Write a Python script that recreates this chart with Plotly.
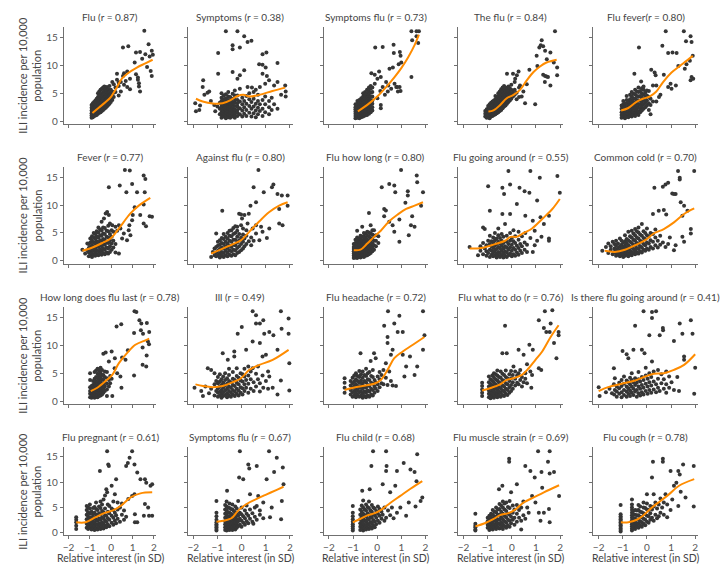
import plotly.graph_objects as go

# ---------------- data (x, [y values]) columns ----------------
flu_pts = [
 (-0.92,[0.6,1.0,1.4,1.9,2.4,2.9]),(-0.86,[0.7,1.2,1.6,2.1,2.6,3.2]),(-0.80,[0.9,1.3,1.8,2.3,2.8,3.4]),
 (-0.74,[1.0,1.5,2.0,2.5,3.1,3.7]),(-0.68,[1.1,1.6,2.2,2.7,3.3,4.0]),(-0.62,[1.3,1.8,2.4,3.0,3.6,4.3,5.0]),
 (-0.56,[1.5,2.0,2.6,3.2,3.8,4.5,5.3]),(-0.50,[1.6,2.2,2.8,3.4,4.0,4.7,5.6]),(-0.44,[1.8,2.4,3.0,3.6,4.2,5.0,5.8]),
 (-0.38,[2.0,2.6,3.2,3.9,4.5,5.2,6.0]),(-0.32,[2.2,2.9,3.5,4.1,4.8,5.5,6.2]),(-0.26,[2.4,3.1,3.7,4.4,5.0,5.8]),
 (-0.20,[2.6,3.3,4.0,4.6,5.3,6.1]),(-0.14,[2.9,3.6,4.3,5.0,5.7]),(-0.08,[3.1,3.8,4.5,5.2,6.3]),
 (-0.02,[3.4,4.1,4.9,5.6]),(0.05,[3.8,4.6,5.3,7.0]),(0.12,[4.3,5.1,6.6]),(0.2,[5.2,6.0]),(0.27,[7.4,8.5]),
 (0.35,[4.6,6.3,6.9]),(0.45,[5.3,7.0]),(0.55,[8.1,13.2]),(0.6,[6.5,8.6]),(0.68,[7.2]),(0.75,[6.1,8.9]),
 (0.8,[13.4]),(0.88,[7.6,5.7]),(1.1,[10.5]),(1.16,[12.3,8.4]),(1.25,[7.4,7.8]),(1.3,[6.8,6.2]),
 (1.35,[5.3,12.4]),(1.45,[11.2]),(1.55,[16.2]),(1.6,[12.0]),(1.68,[9.7]),(1.75,[13.8]),(1.8,[11.6]),
 (1.85,[9.0]),(1.9,[12.6,8.1]),(1.95,[11.9]),
]
flu_cx = [-0.88,-0.57,-0.26,0.0,0.2,0.5,0.75,1.2,1.6,1.94]
flu_cy = [1.45,2.45,3.4,4.4,5.6,7.6,8.5,9.6,10.35,11.0]

sym_pts = [
 (-1.92,[3.2]),(-1.89,[1.75]),(-1.75,[2.0]),(-1.72,[2.8]),(-1.61,[6.1]),(-1.59,[7.3]),(-1.54,[4.7]),
 (-1.41,[5.1]),(-1.34,[5.3]),(-1.27,[3.6]),(-1.13,[2.9]),(-1.09,[1.75]),(-1.0,[2.6]),(-0.97,[12.2,8.5]),
 (-0.9,[1.2,2.2,3.3]),(-0.83,[0.6,1.1,1.6,2.1,2.6,3.1,3.6,4.2,5.0]),(-0.74,[0.8,1.3,1.8,2.3,2.8,3.3,3.9,4.6]),
 (-0.65,[0.5,1.0,1.5,2.0,2.5,3.0,3.5,4.1,4.8,16.1]),(-0.55,[0.7,1.2,1.7,2.2,2.7,3.2,3.8,4.4,5.2]),
 (-0.47,[0.6,1.1,1.6,2.1,2.6,3.1,3.7,4.3]),(-0.37,[0.8,1.3,1.8,2.3,2.9,3.4,4.0,4.9,8.8,12.9,13.6]),
 (-0.28,[0.6,1.1,1.6,2.1,2.7,3.3,3.9,4.6,5.5]),(-0.17,[0.9,1.5,2.0,2.6,3.2,3.8,4.6,7.6,16.1]),
 (-0.07,[1.2,2.3,3.5,5.8,8.2,13.2]),(0.03,[0.8,1.9,3.0,4.2]),(0.11,[1.3,2.5,3.6,9.1,15.2]),
 (0.2,[0.9,2.0,3.1,4.5]),(0.25,[6.1,14.2]),(0.32,[1.5,2.7,3.9,5.0]),(0.41,[14.4,0.8,2.2,3.4]),(0.43,[6.0]),
 (0.5,[1.4,2.6,4.0,5.2]),(0.59,[5.6,0.7,1.9,3.1]),(0.68,[1.2,2.4,3.6,4.7]),(0.73,[10.2]),(0.76,[6.1,1.8,3.0]),
 (0.87,[12.0,10.1,8.5,0.9,2.2,3.8]),(0.98,[6.7,1.6,3.0,4.4]),(1.0,[9.6]),(1.03,[12.3]),(1.05,[8.1]),
 (1.14,[7.3,1.2,2.5,3.6]),(1.25,[2.0,4.2]),(1.35,[6.4,3.0]),(1.49,[7.0,10.4,2.2]),(1.64,[4.7]),(1.81,[6.4]),
 (1.83,[5.3,4.4]),
]
sym_cx = [-1.89,-1.61,-1.2,-0.79,-0.44,-0.17,0.08,0.32,0.73,1.28,1.81]
sym_cy = [4.0,3.5,3.15,3.2,3.8,4.5,4.7,4.4,4.7,5.4,6.0]

sf_pts = [
 (-0.9,[0.5,0.9,1.3,1.7,2.1,2.5,3.0]),(-0.82,[0.6,1.0,1.4,1.8,2.2,2.6,3.1,3.6]),
 (-0.74,[0.5,0.9,1.3,1.7,2.2,2.7,3.2,3.8]),(-0.66,[0.7,1.1,1.5,2.0,2.5,3.0,3.5,4.1]),
 (-0.58,[0.8,1.2,1.7,2.2,2.7,3.2,3.8,4.4,5.0]),(-0.5,[1.0,1.4,1.9,2.4,2.9,3.4,4.0,4.6,5.2]),
 (-0.42,[1.1,1.6,2.1,2.6,3.1,3.7,4.3,4.9,5.6]),(-0.34,[1.3,1.8,2.3,2.8,3.4,4.0,4.6,5.3,6.0]),
 (-0.27,[1.6,2.1,2.6,3.2,3.8,4.4,5.1,5.8,6.3]),(-0.2,[1.9,2.5,3.1,3.7,4.4,5.2,6.0]),
 (-0.1,[8.3,6.7]),(-0.08,[13.2]),(-0.24,[8.6]),(0.01,[7.6,4.1]),(0.08,[8.9]),(0.13,[5.4]),
 (0.15,[7.9,2.9,2.3]),(0.23,[13.3,6.1]),(0.32,[4.7]),(0.37,[7.0]),(0.44,[5.3]),(0.46,[6.4]),(0.51,[9.4]),
 (0.58,[5.8]),(0.65,[9.6]),(0.68,[13.7]),(0.69,[12.2]),(0.72,[6.7]),(0.79,[6.1]),(0.83,[6.1]),(0.86,[5.3]),
 (0.89,[10.2]),(0.94,[12.4]),(0.97,[11.7,5.4]),(0.93,[6.1]),(1.0,[10.5]),(1.42,[7.9,16.1]),(1.45,[14.5]),
 (1.63,[16.1,15.2]),(1.7,[14.0]),(1.73,[16.1]),
]
sf_cx = [-0.8,-0.41,0.0,0.37,0.72,1.0,1.28,1.56,1.73]
sf_cy = [1.75,2.9,4.4,6.1,7.9,9.5,11.4,13.7,15.5]

tf_pts = [
 (-1.1,[0.8,1.3,1.8]),(-1.04,[0.6,1.1,1.6,2.1]),(-0.98,[0.7,1.2,1.7,2.2,2.7]),(-0.92,[0.5,1.0,1.5,2.0,2.5,3.0]),
 (-0.86,[0.8,1.3,1.8,2.3,2.8,3.3]),(-0.8,[0.9,1.4,1.9,2.4,2.9,3.5]),(-0.74,[1.1,1.6,2.1,2.6,3.1,3.7]),
 (-0.68,[1.2,1.7,2.2,2.7,3.3,3.9,4.5]),(-0.62,[1.4,1.9,2.4,3.0,3.6,4.2]),(-0.56,[1.6,2.1,2.6,3.2,3.8,4.4,5.0]),
 (-0.5,[1.8,2.3,2.9,3.5,4.1,4.7,5.3]),(-0.44,[2.0,2.6,3.2,3.8,4.4,5.0,5.7]),(-0.38,[2.3,2.9,3.5,4.1,4.7,5.3,6.0]),
 (-0.32,[2.6,3.2,3.8,4.4,5.0,5.6,6.3]),(-0.26,[2.8,3.4,4.0,4.6,5.3,6.0]),(-0.2,[3.1,3.7,4.3,5.0,5.7,8.5]),
 (-0.14,[3.4,4.0,4.7,5.4,6.2]),(-0.08,[3.7,4.4,5.1,5.9]),(-0.02,[4.0,4.8,5.6,6.5]),(0.05,[4.4,5.2,8.5]),
 (0.12,[4.7,5.6,7.0]),(0.14,[7.6]),(0.21,[8.2]),(0.28,[8.9]),(0.2,[3.9,5.1]),(0.3,[4.3,6.0]),(0.34,[6.4]),
 (0.41,[4.4]),(0.48,[5.3]),(0.55,[3.2]),(0.62,[6.6]),(0.73,[9.2]),(0.97,[3.0]),(1.03,[11.7]),(1.06,[9.9]),
 (1.14,[13.2]),(1.2,[13.6]),(1.24,[14.5]),(1.3,[13.4,8.3]),(1.37,[7.0]),(1.38,[12.6,8.1]),(1.44,[8.0]),
 (1.45,[11.1]),(1.5,[7.9]),(1.6,[12.3,6.4]),(1.74,[10.5]),(1.79,[16.1]),(1.88,[9.6,8.2]),
]
tf_cx = [-0.97,-0.76,-0.48,-0.21,0.07,0.34,0.62,0.9,1.17,1.44,1.86]
tf_cy = [1.7,1.9,2.9,4.1,4.7,5.6,7.3,8.8,9.8,10.5,11.0]

ff_pts = [
 (-1.05,[0.6,1.1,1.6,2.2,2.8]),(-0.98,[0.8,1.3,1.8,2.4,3.0,3.6]),(-0.91,[0.5,1.0,1.5,2.0,2.6,3.2]),
 (-0.84,[0.9,1.4,1.9,2.5,3.1,3.8,4.5]),(-0.77,[0.7,1.2,1.7,2.3,2.9,3.5]),(-0.7,[1.0,1.5,2.0,2.6,3.2,3.9,4.7]),
 (-0.63,[0.8,1.3,1.9,2.5,3.1,3.7,4.4,5.2]),(-0.56,[1.1,1.6,2.2,2.8,3.4,4.1,4.9]),(-0.52,[8.5]),
 (-0.49,[0.9,1.5,2.1,2.7,3.3,4.0,4.8,5.6]),(-0.42,[1.3,1.9,2.5,3.1,3.8,4.5,5.3]),
 (-0.35,[1.1,1.7,2.4,3.0,3.7,4.4,5.2,6.0]),(-0.33,[13.2]),(-0.28,[1.6,2.3,3.0,3.7,4.5,5.4]),(-0.24,[7.1]),
 (-0.21,[1.9,2.6,3.4,4.2,5.0,5.9]),(-0.14,[2.2,3.0,3.8,4.7,5.6,6.2]),(-0.07,[2.5,3.3,4.2,5.1]),
 (0.0,[2.8,3.7,4.6,5.5]),(0.08,[2.0,3.2,4.3,5.4]),(0.15,[1.2,2.9,4.0]),(0.18,[9.2]),(0.25,[6.4,3.5]),
 (0.32,[8.7]),(0.36,[8.2]),(0.39,[6.4,3.5]),(0.5,[4.3]),(0.56,[4.7]),(0.64,[13.5]),(0.7,[8.3]),(0.78,[16.1]),
 (0.88,[12.2,6.1]),(0.98,[6.7]),(1.02,[5.8]),(1.06,[12.3]),(1.2,[6.4]),(1.23,[12.2]),(1.3,[9.9]),(1.53,[16.1]),
 (1.57,[9.4]),(1.62,[14.3]),(1.64,[10.2]),(1.78,[10.8]),(1.81,[15.2,7.3]),(1.85,[14.2,7.9]),(1.9,[11.7]),
 (1.92,[7.6]),
]
ff_cx = [-1.07,-0.79,-0.45,-0.17,0.11,0.39,0.67,1.02,1.37,1.64,1.9]
ff_cy = [1.9,2.3,3.4,4.0,4.4,5.3,7.0,8.7,9.9,10.8,11.7]

fev_pts = [
 (-1.35,[2.0]),(-1.22,[1.3]),(-1.12,[3.1,1.9]),(-1.05,[0.8,1.5,2.3,3.0]),(-0.98,[1.0,1.7,2.5,3.3,4.0]),
 (-0.9,[0.7,1.3,2.0,2.8,3.6,4.4]),(-0.82,[1.1,1.8,2.5,3.3,4.2,5.0]),(-0.75,[0.9,1.6,2.3,3.1,3.9,4.8]),
 (-0.68,[1.2,1.9,2.7,3.5,4.4,5.3]),(-0.6,[1.0,1.7,2.5,3.3,4.2,5.1,6.0]),(-0.52,[1.3,2.0,2.8,3.7,4.6,5.6]),
 (-0.45,[1.1,1.8,2.6,3.5,4.5,5.5,7.0]),(-0.38,[1.4,2.2,3.0,3.9,4.9,6.0]),(-0.34,[7.6]),
 (-0.3,[1.2,2.0,2.9,3.8,4.8,5.9]),(-0.26,[8.5]),(-0.22,[1.5,2.4,3.3,4.3,5.4]),(-0.19,[8.75]),
 (-0.14,[1.3,2.2,3.2,4.2,5.3,6.3]),(-0.11,[8.2,13.2]),(-0.06,[1.6,2.6,3.7,4.8,6.7]),(0.02,[2.0,3.1,4.3,5.5]),
 (0.05,[6.4]),(0.1,[2.4,3.6,5.2]),(0.2,[1.5,3.0,6.1]),(0.28,[5.4]),(0.36,[6.4,1.3]),(0.4,[13.5]),(0.43,[5.8]),
 (0.51,[4.0]),(0.59,[4.9]),(0.64,[16.3]),(0.71,[12.3]),(0.74,[3.7]),(0.82,[5.5]),(0.85,[6.4]),(0.87,[16.2]),
 (0.9,[4.6]),(0.98,[13.8,7.3]),(1.01,[8.2]),(1.1,[9.6]),(1.21,[12.3]),(1.36,[8.2]),(1.52,[15.3,10.1,6.7]),
 (1.57,[12.3]),(1.6,[14.7]),(1.63,[6.2]),(1.8,[8.0]),(1.91,[7.9]),
]
fev_cx = [-1.35,-0.88,-0.42,-0.03,0.28,0.59,0.9,1.29,1.83]
fev_cy = [1.8,2.4,3.2,4.0,5.4,7.0,8.5,9.9,11.3]

af_pts = [
 (-1.26,[0.7]),(-1.19,[1.6]),(-1.12,[1.0,2.2]),(-1.05,[0.8,1.5,2.5,4.9]),(-0.98,[1.0,1.8,2.7,3.4]),
 (-0.9,[0.6,1.3,2.1,2.9,3.7]),(-0.82,[0.9,1.6,2.4,3.2,4.1]),(-0.8,[9.0]),(-0.74,[0.7,1.4,2.2,3.0,3.9,4.8]),
 (-0.66,[1.0,1.8,2.6,3.4,4.3]),(-0.58,[0.8,1.5,2.3,3.1,4.0,5.0]),(-0.5,[1.1,1.9,2.7,3.6,4.5,5.4]),
 (-0.42,[0.9,1.7,2.5,3.4,4.4,5.5]),(-0.34,[1.2,2.0,2.9,3.8,4.8,5.9]),(-0.26,[1.0,1.9,2.8,3.8,5.0,6.2]),
 (-0.18,[1.4,2.3,3.3,4.3,5.4,6.1]),(-0.1,[1.6,2.6,3.7,4.8,8.45]),(-0.02,[1.9,3.0,4.2,6.4,8.3]),(0.02,[7.6]),
 (0.06,[2.2,3.4,4.7,5.8]),(0.12,[8.2,2.6,4.0]),(0.2,[3.0,4.5,5.5]),(0.25,[6.7]),(0.3,[8.45,3.5]),(0.37,[9.9]),
 (0.4,[4.2,2.8]),(0.46,[5.8]),(0.5,[13.2,3.6]),(0.6,[10.5,6.4,4.9]),(0.7,[16.3]),(0.74,[3.7]),(0.81,[6.1]),
 (0.87,[5.2]),(0.92,[12.3]),(1.05,[4.1]),(1.15,[5.8]),(1.26,[13.2]),(1.32,[13.7]),(1.49,[12.0]),
 (1.56,[9.3,6.7]),(1.67,[11.7]),(1.7,[6.4]),(1.91,[11.7,9.9]),
]
af_cx = [-1.26,-0.78,-0.3,-0.02,0.32,0.74,1.15,1.56,1.91]
af_cy = [1.3,2.2,3.1,3.7,5.2,7.1,8.75,9.9,10.5]

fhl_pts = [
 (-0.97,[0.5,0.9,1.3,1.7,2.1,2.5,3.0]),(-0.9,[0.6,1.0,1.4,1.8,2.2,2.7,3.2,3.8]),
 (-0.83,[0.5,0.9,1.3,1.7,2.1,2.6,3.1,3.6,4.2,5.4]),(-0.76,[0.7,1.1,1.5,1.9,2.4,2.9,3.4,4.0]),
 (-0.69,[0.6,1.0,1.4,1.8,2.3,2.8,3.3,3.9,4.5]),(-0.62,[0.8,1.2,1.6,2.1,2.6,3.1,3.7,4.3,6.1]),
 (-0.55,[0.7,1.1,1.6,2.1,2.6,3.2,3.8,4.4,5.0]),(-0.48,[0.9,1.4,1.9,2.4,3.0,3.6,4.2,4.9]),
 (-0.41,[1.0,1.5,2.0,2.6,3.2,3.8,4.5,5.2]),(-0.34,[1.2,1.8,2.4,3.0,3.7,4.4,5.1,8.6]),
 (-0.27,[1.4,2.0,2.7,3.4,4.1,4.9,6.4]),(-0.2,[1.7,2.4,3.1,3.9,4.7,5.5]),(-0.13,[2.0,2.8,3.6,4.5,5.5]),
 (-0.05,[2.6,3.6,4.6]),(0.05,[3.2,4.4]),(0.19,[13.2]),(0.29,[9.3,8.0]),(0.36,[9.05]),(0.5,[13.8,7.0]),
 (0.64,[6.4]),(0.71,[13.5,5.2]),(0.75,[12.3]),(0.92,[3.4,7.4]),(0.99,[16.3]),(1.17,[10.4]),(1.27,[12.5,11.7]),
 (1.31,[4.6]),(1.4,[6.4]),(1.45,[8.0]),(1.55,[6.1]),(1.64,[15.3]),(1.66,[14.1]),(1.82,[9.9]),(1.9,[12.3]),
]
fhl_cx = [-0.97,-0.69,-0.41,-0.13,0.15,0.5,0.85,1.2,1.55,1.9]
fhl_cy = [1.9,2.0,3.1,4.3,5.4,7.1,8.3,9.3,9.9,10.5]

fga_pts = [
 (-1.75,[2.5]),(-1.4,[1.0]),(-1.3,[1.8,2.6]),(-1.19,[6.0,1.2,3.2]),(-1.12,[5.7,2.2]),(-1.05,[0.9,1.7,2.8]),
 (-0.98,[13.4,1.4,3.6]),(-0.91,[9.0,0.7,2.0,3.0,4.5]),(-0.84,[1.1,1.8,2.6,3.5]),(-0.77,[0.8,1.5,2.3,3.2,4.2]),
 (-0.7,[1.0,1.8,2.7,3.7,5.0]),(-0.63,[0.6,1.3,2.1,3.0,4.0]),(-0.56,[0.9,1.6,2.5,3.4,4.6,5.8]),
 (-0.49,[0.7,1.4,2.2,3.1,4.1]),(-0.42,[1.0,1.8,2.7,3.6,4.8]),(-0.39,[13.1,8.4]),(-0.35,[0.6,1.3,2.2,3.2,4.3]),
 (-0.32,[12.0]),(-0.28,[0.9,1.7,2.6,6.6]),(-0.21,[0.7,1.5,2.4,3.4,4.5]),(-0.14,[16.1,1.0,2.0,3.0]),
 (-0.07,[13.7,8.4,1.3,2.4,3.6,5.0]),(0.0,[0.8,1.8,2.9,4.1]),(0.07,[1.2,2.3,3.5,5.5]),(0.14,[0.9,2.0,3.2,4.4]),
 (0.21,[10.2,1.5,2.7]),(0.28,[1.1,2.3,3.8,5.2]),(0.32,[13.1]),(0.35,[1.8,3.0]),(0.42,[1.4,2.6,4.4]),
 (0.53,[12.5,2.0,3.3]),(0.56,[8.1,5.0]),(0.63,[1.6,2.9]),(0.73,[12.2]),(0.77,[16.1,4.1]),(0.87,[7.2,1.6]),
 (0.95,[2.8,5.4]),(1.05,[10.8,3.6]),(1.16,[14.9]),(1.19,[7.8]),(1.23,[4.3]),(1.33,[6.6]),(1.54,[8.1,4.0,3.6]),
 (1.89,[15.2]),(1.99,[12.2]),
]
fga_cx = [-1.75,-1.26,-0.7,-0.28,-0.05,0.2,0.5,0.84,1.26,1.68,1.99]
fga_cy = [2.2,2.3,3.0,3.6,4.3,4.3,5.0,5.8,7.5,9.3,11.1]

cc_pts = [
 (-1.85,[1.8]),(-1.7,[2.5]),(-1.6,[1.4,3.1]),(-1.5,[2.0,2.6]),(-1.42,[1.2,3.4]),(-1.35,[1.6,2.2,3.0]),
 (-1.28,[0.9,1.4,2.0,2.7,3.6]),(-1.2,[1.1,1.6,2.3,3.1]),(-1.12,[0.8,1.3,1.9,2.6,4.0]),
 (-1.05,[1.0,1.5,2.1,2.9,3.6]),(-0.98,[0.7,1.2,1.8,2.5,3.3]),(-0.91,[0.9,1.4,2.0,2.7,3.5,4.6]),
 (-0.84,[1.1,1.6,2.3,3.1,3.9]),(-0.77,[0.8,1.3,2.0,2.8,3.7,5.2]),(-0.7,[1.2,1.8,2.5,3.4,4.4]),
 (-0.63,[1.0,1.6,2.4,3.2,4.2,5.4]),(-0.56,[1.4,2.1,2.9,3.8,4.9]),(-0.49,[1.2,1.9,2.7,3.6,4.6,5.7]),
 (-0.42,[1.5,2.3,3.2,4.2,5.3]),(-0.35,[1.3,2.1,3.0,4.0,5.1,6.0]),(-0.28,[1.7,2.6,3.6,4.7]),
 (-0.21,[1.5,2.4,3.4,4.5,6.6]),(-0.14,[2.0,3.0,4.1,5.3]),(-0.07,[1.8,2.8,3.9,5.0]),(0.0,[2.2,3.3,4.6,5.8]),
 (0.08,[2.0,3.1,4.4]),(0.15,[2.5,3.7,5.0]),(0.25,[8.4,2.2,3.4,4.8]),(0.31,[13.1]),(0.35,[2.8,4.2,5.6]),
 (0.45,[2.4,3.6]),(0.49,[9.0]),(0.55,[2.9,4.5]),(0.66,[13.3,3.3]),(0.7,[9.1]),(0.77,[13.7,2.5]),(0.8,[8.3]),
 (0.88,[14.0,3.0]),(0.95,[4.2]),(1.05,[12.1]),(1.12,[12.0,1.9]),(1.19,[12.0,2.8]),(1.29,[16.1]),
 (1.36,[14.9,14.6]),(1.4,[10.5]),(1.47,[8.1,4.3]),(1.54,[9.9,3.4]),(1.68,[9.0]),(1.82,[5.7,4.9]),(1.96,[16.1]),
]
cc_cx = [-1.75,-1.33,-0.91,-0.49,-0.07,0.28,0.7,1.12,1.54,1.96]
cc_cy = [1.8,1.6,2.0,2.8,3.7,4.9,5.7,6.9,8.4,9.4]

hl_pts = [
 (-0.99,[0.7,1.3,1.8,2.5,3.8,5.0]),(-0.92,[0.6,1.0,1.5,2.0,2.7]),(-0.85,[0.8,1.2,1.7,2.2,2.9,3.6]),
 (-0.78,[0.6,1.0,1.4,1.9,2.5,3.2,4.0,5.2]),(-0.71,[0.8,1.2,1.7,2.2,2.8,3.5,4.3,5.5]),
 (-0.64,[0.7,1.1,1.6,2.1,2.7,3.4,4.1,4.9,5.8]),(-0.57,[0.9,1.4,1.9,2.5,3.1,3.8,4.6,5.5]),
 (-0.5,[1.0,1.5,2.1,2.7,3.4,4.2,5.1,6.0]),(-0.43,[1.2,1.8,2.4,3.1,3.9,4.7,5.6]),
 (-0.37,[8.5,1.5,2.2,3.0,3.8,4.7]),(-0.3,[1.8,2.6,3.4,4.3,5.3]),(-0.26,[8.7]),(-0.2,[0.9,2.1,3.1,4.1,5.2]),
 (-0.11,[7.1,2.6,3.8]),(-0.05,[3.2,4.5]),(0.02,[8.9,4.0]),(0.05,[0.9]),(0.16,[5.9]),(0.17,[7.7]),(0.25,[13.4]),
 (0.28,[5.0]),(0.43,[4.4]),(0.47,[13.8]),(0.48,[2.4]),(0.51,[7.8]),(0.67,[7.4]),(0.78,[9.1]),(1.07,[12.2,4.6]),
 (1.09,[16.1]),(1.18,[16.0]),(1.32,[14.5]),(1.39,[12.7]),(1.41,[13.9]),(1.47,[9.6,6.5]),(1.49,[12.1]),
 (1.64,[6.2]),(1.66,[8.2]),(1.67,[14.0]),(1.72,[10.7]),(1.77,[10.2]),(1.78,[12.4]),
]
hl_cx = [-0.96,-0.65,-0.26,0.05,0.36,0.74,1.13,1.6,1.78]
hl_cy = [1.8,2.4,3.6,4.7,6.8,8.6,10.1,10.9,11.2]

ill_pts = [
 (-1.95,[2.4]),(-1.67,[1.8]),(-1.6,[0.9]),(-1.5,[2.6]),(-1.4,[5.9]),(-1.35,[1.4]),(-1.26,[5.6,2.2]),
 (-1.12,[5.0,1.0,3.0]),(-1.05,[1.8,3.6]),(-0.98,[0.8,1.5,2.3,3.2,4.3]),(-0.9,[1.0,1.7,2.6,3.5,4.8]),
 (-0.83,[0.6,1.3,2.0,2.9,3.9]),(-0.78,[8.6]),(-0.76,[0.9,1.6,2.4,3.3,4.4]),(-0.68,[1.1,1.9,2.8,3.8,5.0]),
 (-0.6,[0.7,1.4,2.2,3.1,4.1]),(-0.57,[7.4]),(-0.52,[1.0,1.8,2.6,3.6,4.7,5.8]),(-0.44,[0.8,1.5,2.4,3.4]),
 (-0.36,[1.2,2.0,2.9,4.0,5.2]),(-0.3,[8.9,8.0]),(-0.28,[0.9,1.7,2.7,3.8]),(-0.2,[1.3,2.2,3.3,4.5,5.9]),
 (-0.16,[12.1]),(-0.12,[1.0,1.9,3.0,4.2]),(-0.04,[1.5,2.5,3.7,5.0]),(0.01,[13.3]),(0.04,[1.2,2.3,3.5,4.8]),
 (0.12,[1.8,3.0,4.4,5.8]),(0.19,[9.2,2.4,3.8]),(0.28,[1.5,3.1,4.6,6.2]),(0.38,[2.2,3.9,5.3]),
 (0.46,[16.1,10.7,5.9]),(0.5,[1.8,3.4]),(0.6,[15.4,13.9,4.9,2.6]),(0.68,[3.9,6.2]),(0.76,[13.9,10.4,1.7,3.2]),
 (0.87,[8.0,4.6]),(0.9,[14.5,2.4]),(0.94,[12.1]),(1.01,[8.3,3.6]),(1.1,[2.2,5.3]),(1.15,[12.4,4.4]),
 (1.29,[2.4]),(1.32,[11.8]),(1.49,[9.2,1.2]),(1.63,[16.1,3.7]),(1.66,[13.0]),(1.95,[14.8,12.1]),(1.98,[6.8,1.9]),
]
ill_cx = [-1.91,-1.6,-1.19,-0.78,-0.36,-0.02,0.32,0.74,1.29,1.95]
ill_cy = [3.0,2.7,2.5,2.7,3.4,4.1,5.6,6.5,7.4,9.2]

fh_pts = [
 (-1.35,[1.5,2.4,3.3,4.1]),(-1.1,[1.2,2.0,2.8,3.6]),(-1.02,[0.8,1.6,2.4,3.2,4.2]),(-0.95,[1.0,1.8,2.6,3.5,4.6]),
 (-0.88,[0.7,1.4,2.2,3.0,3.9,5.0]),(-0.81,[1.1,1.9,2.7,3.6,4.5]),(-0.74,[0.8,1.6,2.4,3.3,4.3,5.4]),
 (-0.69,[8.6]),(-0.67,[1.0,1.8,2.7,3.7,4.8]),(-0.6,[0.6,1.4,2.3,3.2,4.2,5.3]),(-0.53,[0.9,1.7,2.6,3.6,4.7]),
 (-0.46,[0.7,1.5,2.4,3.4,4.5,5.8]),(-0.39,[1.0,1.9,2.9,3.9,5.0]),(-0.32,[0.8,1.7,2.7,3.8,5.2]),(-0.27,[7.2]),
 (-0.25,[1.2,2.2,3.3,4.5]),(-0.18,[1.0,2.0,3.1,4.3,5.6]),(-0.13,[8.6]),(-0.11,[1.5,2.6,3.8]),
 (-0.06,[7.7,2.2,3.4]),(0.02,[1.8,3.0,4.4]),(0.1,[2.5,3.9,5.2]),(0.18,[3.2,4.7]),(0.26,[3.0,5.6]),
 (0.29,[13.5]),(0.36,[6.8,4.2]),(0.43,[10.4,11.5,2.9]),(0.45,[16.1]),(0.5,[5.3]),(0.57,[8.3,3.6]),
 (0.64,[9.2,2.8]),(0.71,[13.9]),(0.78,[2.7]),(0.85,[12.4]),(0.92,[15.3]),(1.06,[12.4,8.3]),(1.13,[4.4]),
 (1.2,[6.2]),(1.36,[8.0]),(1.55,[4.7]),(1.66,[6.2]),(1.9,[16.1,9.2]),(1.96,[11.8]),
]
fh_cx = [-1.35,-0.9,-0.48,-0.13,0.15,0.43,0.71,1.06,1.48,1.96]
fh_cy = [2.0,2.5,2.8,3.1,3.8,5.6,7.7,8.9,10.1,11.5]

fwd_pts = [
 (-1.23,[0.9,1.5,2.1,2.7,3.3]),(-0.95,[0.7,1.3,1.9,2.6,3.4,4.4]),(-0.88,[0.5,1.0,1.6,2.3,3.0,3.9]),
 (-0.81,[0.8,1.4,2.0,2.8,3.6,4.6]),(-0.74,[0.6,1.2,1.8,2.5,3.3,4.2,5.0]),(-0.67,[0.9,1.5,2.2,3.0,3.9,4.8]),
 (-0.6,[0.7,1.3,2.0,2.8,3.7,4.6,5.5]),(-0.53,[1.0,1.7,2.5,3.4,4.3]),(-0.46,[0.8,1.5,2.3,3.2,4.2,5.3]),
 (-0.39,[1.1,1.9,2.8,3.8,4.9,8.6]),(-0.32,[0.9,1.7,2.6,3.6,4.7]),(-0.28,[13.5]),(-0.25,[1.3,2.2,3.2,4.3,5.5]),
 (-0.21,[8.6]),(-0.18,[1.1,2.0,3.0,4.1]),(-0.1,[1.5,2.5,3.6,4.8]),(-0.03,[1.8,2.9,4.1,5.4]),(0.04,[2.2,3.4,4.7]),
 (0.07,[6.2]),(0.14,[2.8,4.0,5.3]),(0.22,[3.3,4.6]),(0.28,[9.2,3.0,5.0]),(0.35,[3.8,5.6]),(0.42,[4.3,2.6]),
 (0.49,[8.3,3.4]),(0.56,[5.0,4.0]),(0.63,[3.2,6.6]),(0.73,[10.1]),(0.77,[5.3]),(0.81,[2.4]),(0.84,[4.7]),
 (0.87,[9.2]),(1.12,[14.5,5.9]),(1.22,[5.6]),(1.33,[13.1]),(1.37,[16.1]),(1.43,[12.4]),(1.57,[12.4]),
 (1.61,[13.9]),(1.68,[16.3]),(1.75,[10.4]),(1.85,[7.7]),(1.94,[12.4,11.8]),
]
fwd_cx = [-1.23,-0.84,-0.49,-0.21,0.07,0.42,0.7,0.98,1.26,1.61,1.94]
fwd_cy = [1.9,2.4,3.0,3.8,4.1,4.7,5.9,7.4,8.9,11.5,13.6]

itf_pts = [
 (-2.0,[2.5]),(-1.96,[0.9]),(-1.7,[1.6]),(-1.55,[2.2]),(-1.45,[1.4]),(-1.37,[5.9,3.0]),(-1.36,[1.2]),
 (-1.33,[4.1,2.0]),(-1.25,[0.8,1.7,2.6]),(-1.15,[1.3,2.3,3.3]),(-1.05,[0.7,1.6,2.7,3.8]),(-1.01,[9.0]),
 (-0.95,[1.1,2.0,3.1,4.4]),(-0.84,[8.4,0.8,1.7,2.6,3.7]),(-0.77,[7.7,1.3,2.3,3.4]),(-0.7,[0.9,1.9,3.0,4.2]),
 (-0.63,[1.5,2.6,3.8,5.0]),(-0.56,[9.2,1.1,2.2,3.4]),(-0.49,[13.5,1.7,2.9,4.1]),(-0.42,[0.8,2.0,3.3]),
 (-0.35,[1.4,2.6,3.9,5.2]),(-0.28,[1.0,2.2,3.5]),(-0.21,[9.2,1.6,2.9,4.3]),(-0.14,[16.1,1.2,2.4,3.8]),
 (-0.1,[8.6]),(-0.05,[1.8,3.1,4.6,6.0]),(0.03,[1.3,2.6,4.0]),(0.1,[11.8,2.0,3.4,5.0]),(0.18,[1.5,2.8,4.3]),
 (0.21,[16.0,14.9,7.1]),(0.28,[2.1,3.5,5.3]),(0.38,[16.1,1.6,3.0]),(0.46,[2.4,4.0,5.6]),(0.53,[11.8,1.8]),
 (0.6,[3.2,4.8]),(0.66,[13.1]),(0.67,[12.7]),(0.7,[2.2,3.9]),(0.8,[1.5,3.0,5.3]),(0.92,[2.4,4.4]),(1.02,[3.4]),
 (1.12,[10.8,2.0]),(1.26,[4.3]),(1.33,[1.8]),(1.36,[13.9]),(1.47,[12.1]),(1.54,[8.0,7.4]),(1.82,[14.5]),
 (1.89,[12.1]),(1.96,[1.3]),(2.0,[6.0]),
]
itf_cx = [-2.0,-1.61,-1.05,-0.56,-0.07,0.28,0.7,1.12,1.54,2.0]
itf_cy = [1.8,2.5,3.1,3.6,4.4,4.9,5.0,5.6,6.5,8.4]

fp_pts = [
 (-1.64,[0.8,1.4,2.1,2.6,3.1]),(-1.15,[1.0,1.8,2.7,3.6,4.5,5.3]),(-1.08,[0.8,1.5,2.3,3.2,4.1,5.0]),
 (-1.0,[1.1,1.9,2.8,3.8,4.8,5.6]),(-0.92,[0.7,1.4,2.2,3.1,4.2]),(-0.85,[1.0,1.8,2.7,3.7,4.9]),
 (-0.78,[0.6,1.3,2.1,3.0,4.0,5.1]),(-0.71,[0.9,1.7,2.6,3.6,4.7,6.0]),(-0.64,[0.7,1.5,2.4,3.4,4.5]),
 (-0.57,[1.1,1.9,2.8,3.9,5.2]),(-0.53,[12.2]),(-0.5,[0.8,1.6,2.6,3.7,4.9,6.2]),(-0.43,[1.2,2.1,3.1,4.3,5.6]),
 (-0.36,[0.9,1.8,2.9,4.1,6.6]),(-0.29,[1.4,2.4,3.5,4.8,7.4]),(-0.23,[8.6,1.1,2.2,3.4]),(-0.19,[16.1,8.0]),
 (-0.16,[1.7,2.9,4.2,5.6]),(-0.14,[13.5]),(-0.11,[13.2]),(-0.09,[1.3,2.6,3.9,5.3]),(0.02,[9.3,2.0,3.4,4.8]),
 (0.1,[1.6,3.0,4.5,6.2]),(0.17,[7.6,2.4,4.0]),(0.23,[10.6,1.9,3.5]),(0.3,[2.8,4.6,6.0]),(0.41,[5.0,2.2]),
 (0.5,[3.6,5.8]),(0.6,[2.6,4.4]),(0.7,[13.2,3.2]),(0.78,[13.8]),(0.8,[6.7]),(0.86,[14.8]),(0.98,[16.1,7.3]),
 (1.09,[13.5,7.6]),(1.11,[3.7,2.1]),(1.22,[11.9,2.1]),(1.37,[10.6]),(1.53,[3.4]),(1.58,[10.6,5.7]),
 (1.64,[9.9]),(1.73,[5.0]),(1.77,[3.4]),(1.84,[9.3]),(1.92,[9.6,3.4]),
]
fp_cx = [-1.64,-1.2,-0.73,-0.27,0.05,0.44,0.91,1.37,1.92]
fp_cy = [2.1,2.1,3.1,4.0,4.4,5.3,7.0,7.8,8.0]

sf2_pts = [
 (-1.04,[0.5,0.8,1.1,1.4,1.7,2.1,2.6,3.3,4.0,6.3]),(-0.68,[0.6,1.1,1.7,2.3,3.0,3.8,4.6,5.5]),
 (-0.62,[0.5,1.0,1.5,2.1,2.8,3.6,4.4,5.2,6.2]),(-0.6,[8.3]),(-0.56,[0.7,1.2,1.8,2.5,3.3,4.1,5.0]),
 (-0.5,[0.6,1.1,1.7,2.4,3.2,4.0,4.9,5.8]),(-0.44,[0.8,1.4,2.1,2.9,3.8,4.7]),
 (-0.38,[0.6,1.2,1.9,2.7,3.6,4.6,5.6]),(-0.32,[0.9,1.6,2.4,3.3,4.3]),(-0.26,[0.7,1.4,2.2,3.1,4.1,5.2]),
 (-0.2,[1.0,1.8,2.7,3.7,4.8]),(-0.14,[6.3,1.3,2.3,3.4]),(-0.1,[10.9]),(-0.07,[16.1,1.6,2.8,4.0]),
 (0.0,[1.2,2.4,3.7,5.0]),(0.07,[10.6,2.0,3.3]),(0.14,[1.6,2.9,4.4]),(0.21,[2.3,3.8,5.4]),(0.28,[13.5,1.9,3.4]),
 (0.32,[12.7]),(0.35,[7.6,2.8,4.6]),(0.45,[2.2,3.9]),(0.49,[1.8]),(0.55,[3.2,5.0]),(0.63,[13.2,5.3,2.6]),
 (0.69,[7.3]),(0.76,[3.6,4.4]),(0.9,[6.0,2.9]),(1.04,[10.6]),(1.14,[16.1]),(1.18,[3.1]),(1.25,[5.0]),
 (1.35,[12.0]),(1.46,[14.8]),(1.64,[2.7]),(1.67,[6.3]),(1.71,[12.9]),(1.74,[9.6]),
]
sf2_cx = [-1.04,-0.76,-0.42,-0.14,0.21,0.63,1.04,1.46,1.74]
sf2_cy = [2.2,2.4,2.9,4.4,5.7,6.7,7.6,8.5,9.1]

fc_pts = [
 (-1.01,[0.5,0.9,1.3,1.7,2.2,2.7,3.3,4.0,5.3]),(-0.7,[0.6,1.2,1.9,2.7,3.6,4.6]),(-0.64,[0.8,1.5,2.3,3.2,4.2,5.4]),
 (-0.62,[8.3]),(-0.58,[0.5,1.1,1.9,2.8,3.8,5.0,6.4]),(-0.52,[0.9,1.6,2.5,3.5,4.6]),
 (-0.46,[0.7,1.4,2.3,3.3,4.4,5.6]),(-0.4,[1.0,1.8,2.8,3.9,5.1]),(-0.34,[0.8,1.6,2.6,3.7,4.9,6.2]),
 (-0.31,[8.6]),(-0.28,[1.2,2.1,3.2,4.4]),(-0.24,[13.2]),(-0.22,[0.9,1.9,3.0,4.2,5.5]),(-0.17,[16.1]),
 (-0.16,[1.4,2.5,3.7,5.0]),(-0.1,[1.1,2.2,3.5,4.8]),(-0.04,[1.7,3.0,4.3]),(0.03,[2.4,3.8,5.2]),
 (0.1,[2.0,3.4,4.7]),(0.18,[2.8,4.2]),(0.23,[9.6,3.6]),(0.3,[2.4,5.0]),(0.37,[16.1,12.2,3.0]),(0.39,[13.2]),
 (0.45,[4.4]),(0.54,[8.0,3.5]),(0.61,[5.0]),(0.68,[2.9]),(0.75,[9.3]),(0.82,[12.2,4.0]),(0.96,[5.0]),
 (1.1,[13.8]),(1.2,[3.4]),(1.31,[6.0]),(1.38,[12.5]),(1.55,[12.0]),(1.59,[5.2]),(1.63,[10.2]),(1.66,[15.5]),
 (1.8,[6.3]),(1.87,[7.0]),
]
fc_cx = [-1.01,-0.73,-0.38,-0.1,0.18,0.54,0.96,1.38,1.87]
fc_cy = [2.1,2.7,3.5,3.9,4.6,5.9,7.3,8.7,10.2]

fms_pts = [
 (-1.51,[0.5,0.7,1.1,1.4,1.8,3.8]),(-1.0,[1.0,1.6,2.3,3.0]),(-0.93,[0.6,1.2,1.9,2.6,3.4]),
 (-0.86,[0.9,1.5,2.2,3.0,3.8]),(-0.79,[0.7,1.3,2.0,2.8,3.6,4.5]),(-0.72,[1.0,1.7,2.5,3.3,4.2]),
 (-0.65,[0.8,1.5,2.3,3.2,4.1,5.0]),(-0.58,[1.1,1.9,2.7,3.6,4.6]),(-0.53,[8.6]),
 (-0.51,[0.9,1.7,2.6,3.6,4.7,5.7]),(-0.44,[1.2,2.1,3.1,4.2,5.4]),(-0.39,[9.3]),
 (-0.37,[0.8,1.7,2.7,3.8,5.0,6.2]),(-0.3,[1.3,2.3,3.4,4.6,5.8]),(-0.23,[1.0,2.0,3.1,4.3,6.0]),
 (-0.16,[1.5,2.6,3.8,5.1]),(-0.11,[14.6,14.0]),(-0.09,[1.2,2.4,3.6,4.9,6.3]),(-0.03,[8.0,1.9,3.2]),
 (0.04,[2.6,4.0,5.4]),(0.11,[1.6,3.0,4.6]),(0.21,[9.6,2.2,3.8,5.5]),(0.3,[3.0,4.5]),(0.39,[0.7,2.4,5.0]),
 (0.48,[3.5,6.2]),(0.56,[13.2,2.8]),(0.64,[5.0]),(0.7,[4.0]),(0.77,[12.2]),(0.84,[7.3]),(0.95,[10.9]),
 (0.98,[6.0]),(1.09,[16.1]),(1.12,[4.0]),(1.19,[2.4]),(1.23,[12.0]),(1.26,[8.9]),(1.33,[4.0]),(1.5,[14.0]),
 (1.54,[4.7]),(1.57,[16.1,11.7,2.1]),(1.75,[12.0]),(1.96,[7.3]),
]
fms_cx = [-1.51,-1.12,-0.77,-0.49,-0.14,0.14,0.49,0.91,1.33,1.96]
fms_cy = [1.3,1.9,2.7,3.5,3.9,4.6,6.0,7.0,8.0,9.4]

fco_pts = [
 (-1.09,[0.3,0.6,0.9,1.2,1.5,1.8,2.1,2.4,2.7,3.0,3.3,3.7,5.5]),
 (-0.62,[0.5,0.9,1.3,1.7,2.1,2.5,3.0,3.5,4.0,4.5,5.0,5.6,6.6]),(-0.56,[1.0,1.6,2.2,2.9,3.6,4.3]),
 (-0.49,[0.8,1.4,2.1,2.8,3.6,4.5]),(-0.42,[1.2,1.9,2.7,3.5,4.4]),(-0.35,[1.0,1.8,2.6,3.5,4.5,5.5]),
 (-0.28,[1.5,2.3,3.2,4.2,5.2]),(-0.21,[1.2,2.1,3.1,4.1]),(-0.14,[1.8,2.8,3.9,5.0,6.0]),
 (-0.07,[1.5,2.6,3.7,4.9]),(0.0,[7.6,2.2,3.4,4.6,5.8]),(0.07,[2.0,3.3,4.5]),(0.14,[2.6,3.9,5.3]),
 (0.21,[10.9,3.0,4.6]),(0.25,[14.0]),(0.28,[7.6,2.4,5.2]),(0.35,[3.6,6.0]),(0.42,[2.9,4.8]),(0.49,[3.3,5.6]),
 (0.56,[4.0,6.8]),(0.63,[5.0]),(0.66,[14.6,14.0]),(0.7,[3.6,6.0]),(0.77,[7.6]),(0.84,[3.1,5.6]),
 (0.98,[12.2,4.5]),(1.05,[6.6]),(1.12,[9.3]),(1.22,[9.9]),(1.3,[12.2,5.3]),(1.36,[11.5]),(1.4,[8.1]),
 (1.5,[13.5]),(1.6,[7.0]),(1.94,[13.2,5.2]),
]
fco_cx = [-1.08,-0.77,-0.42,-0.14,0.21,0.56,0.91,1.33,1.96]
fco_cy = [2.1,2.1,2.6,3.5,5.0,6.3,7.6,9.3,10.6]

titles = [
 "Flu (r = 0.87)", "Symptoms (r = 0.38)", "Symptoms flu (r = 0.73)", "The flu (r = 0.84)", "Flu fever(r = 0.80)",
 "Fever (r = 0.77)", "Against flu (r = 0.80)", "Flu how long (r = 0.80)", "Flu going around (r = 0.55)",
 "Common cold (r = 0.70)", "How long does flu last (r = 0.78)", "Ill (r = 0.49)", "Flu headache (r = 0.72)",
 "Flu what to do (r = 0.76)", "Is there flu going around (r = 0.41)", "Flu pregnant (r = 0.61)",
 "Symptoms flu (r = 0.67)", "Flu child (r = 0.68)", "Flu muscle strain (r = 0.69)", "Flu cough (r = 0.78)",
]
x_ticks = [-2, -1, 0, 1, 2]
y_ticks = [0, 5, 10, 15]
y_title = "ILI incidence per 10,000<br>population"
x_title = "Relative interest (in SD)"

panels = [
 (flu_pts, flu_cx, flu_cy), (sym_pts, sym_cx, sym_cy), (sf_pts, sf_cx, sf_cy), (tf_pts, tf_cx, tf_cy),
 (ff_pts, ff_cx, ff_cy), (fev_pts, fev_cx, fev_cy), (af_pts, af_cx, af_cy), (fhl_pts, fhl_cx, fhl_cy),
 (fga_pts, fga_cx, fga_cy), (cc_pts, cc_cx, cc_cy), (hl_pts, hl_cx, hl_cy), (ill_pts, ill_cx, ill_cy),
 (fh_pts, fh_cx, fh_cy), (fwd_pts, fwd_cx, fwd_cy), (itf_pts, itf_cx, itf_cy), (fp_pts, fp_cx, fp_cy),
 (sf2_pts, sf2_cx, sf2_cy), (fc_pts, fc_cx, fc_cy), (fms_pts, fms_cx, fms_cy), (fco_pts, fco_cx, fco_cy),
]

# ---------------- layout geometry (pixels) ----------------
W, H = 725, 574
col_left = [63.0, 187.5, 323.5, 458.5, 594.0]
col_width = [92.9, 105.0, 105.0, 105.0, 105.0]
row_top = [27.0, 167.5, 308.5, 449.5]
row_bottom = [124.5, 265.0, 406.0, 538.3]

FONT = "Lato, 'Open Sans', sans-serif"
AX_COLOR = "#707070"
TXT = "#444444"

fig = go.Figure()
annotations = []
for i, ((pts, cx, cy), title) in enumerate(zip(panels, titles)):
    r, c = divmod(i, 5)
    n = i + 1
    xs = [x for x, ys in pts for _ in ys]
    ys_ = [y for x, ys in pts for y in ys]
    fig.add_trace(go.Scatter(x=xs, y=ys_, mode="markers",
                             marker=dict(size=4, color="#363636", line=dict(width=0)),
                             xaxis=f"x{n}", yaxis=f"y{n}", showlegend=False, hoverinfo="skip"))
    fig.add_trace(go.Scatter(x=cx, y=cy, mode="lines",
                             line=dict(color="#FF8C00", width=2, shape="spline", smoothing=1.0),
                             xaxis=f"x{n}", yaxis=f"y{n}", showlegend=False, hoverinfo="skip"))
    xd = [col_left[c] / W, (col_left[c] + col_width[c]) / W]
    yd = [1 - row_bottom[r] / H, 1 - row_top[r] / H]
    common = dict(showline=True, linecolor=AX_COLOR, linewidth=1, ticks="outside", ticklen=3,
                  tickcolor=AX_COLOR, tickwidth=1, showgrid=False, zeroline=False,
                  tickfont=dict(family=FONT, size=10, color="#555555"), fixedrange=True)
    fig.layout["xaxis" + ("" if n == 1 else str(n))] = dict(
        domain=xd, range=[-2.22, 2.12], anchor=f"y{n}", tickvals=x_ticks,
        showticklabels=(r == 3), **common)
    fig.layout["yaxis" + ("" if n == 1 else str(n))] = dict(
        domain=yd, range=[-0.5, 16.9], anchor=f"x{n}", tickvals=y_ticks,
        showticklabels=(c == 0), **common)
    annotations.append(dict(text=title, xref="paper", yref="paper",
                            x=(xd[0] + xd[1]) / 2, y=1 - (row_top[r] - 10) / H,
                            xanchor="center", yanchor="middle", showarrow=False,
                            font=dict(family=FONT, size=10, color=TXT)))
    if c == 0:
        annotations.append(dict(text=y_title, xref="paper", yref="paper",
                                x=28.5 / W, y=1 - (row_top[r] + row_bottom[r]) / 2 / H,
                                xanchor="center", yanchor="middle", textangle=-90, showarrow=False,
                                font=dict(family=FONT, size=11, color=TXT)))
    if r == 3:
        annotations.append(dict(text=x_title, xref="paper", yref="paper",
                                x=(xd[0] + xd[1]) / 2, y=1 - 561 / H,
                                xanchor="center", yanchor="middle", showarrow=False,
                                font=dict(family=FONT, size=10.5, color=TXT)))

fig.update_layout(width=W, height=H, autosize=False, margin=dict(l=0, r=0, t=0, b=0),
                  paper_bgcolor="white", plot_bgcolor="white", annotations=annotations,
                  font=dict(family=FONT, color=TXT))

fig.write_html("out.html", config={"displayModeBar": False},
               post_script="document.body.style.margin='0';document.body.style.overflow='hidden';")
